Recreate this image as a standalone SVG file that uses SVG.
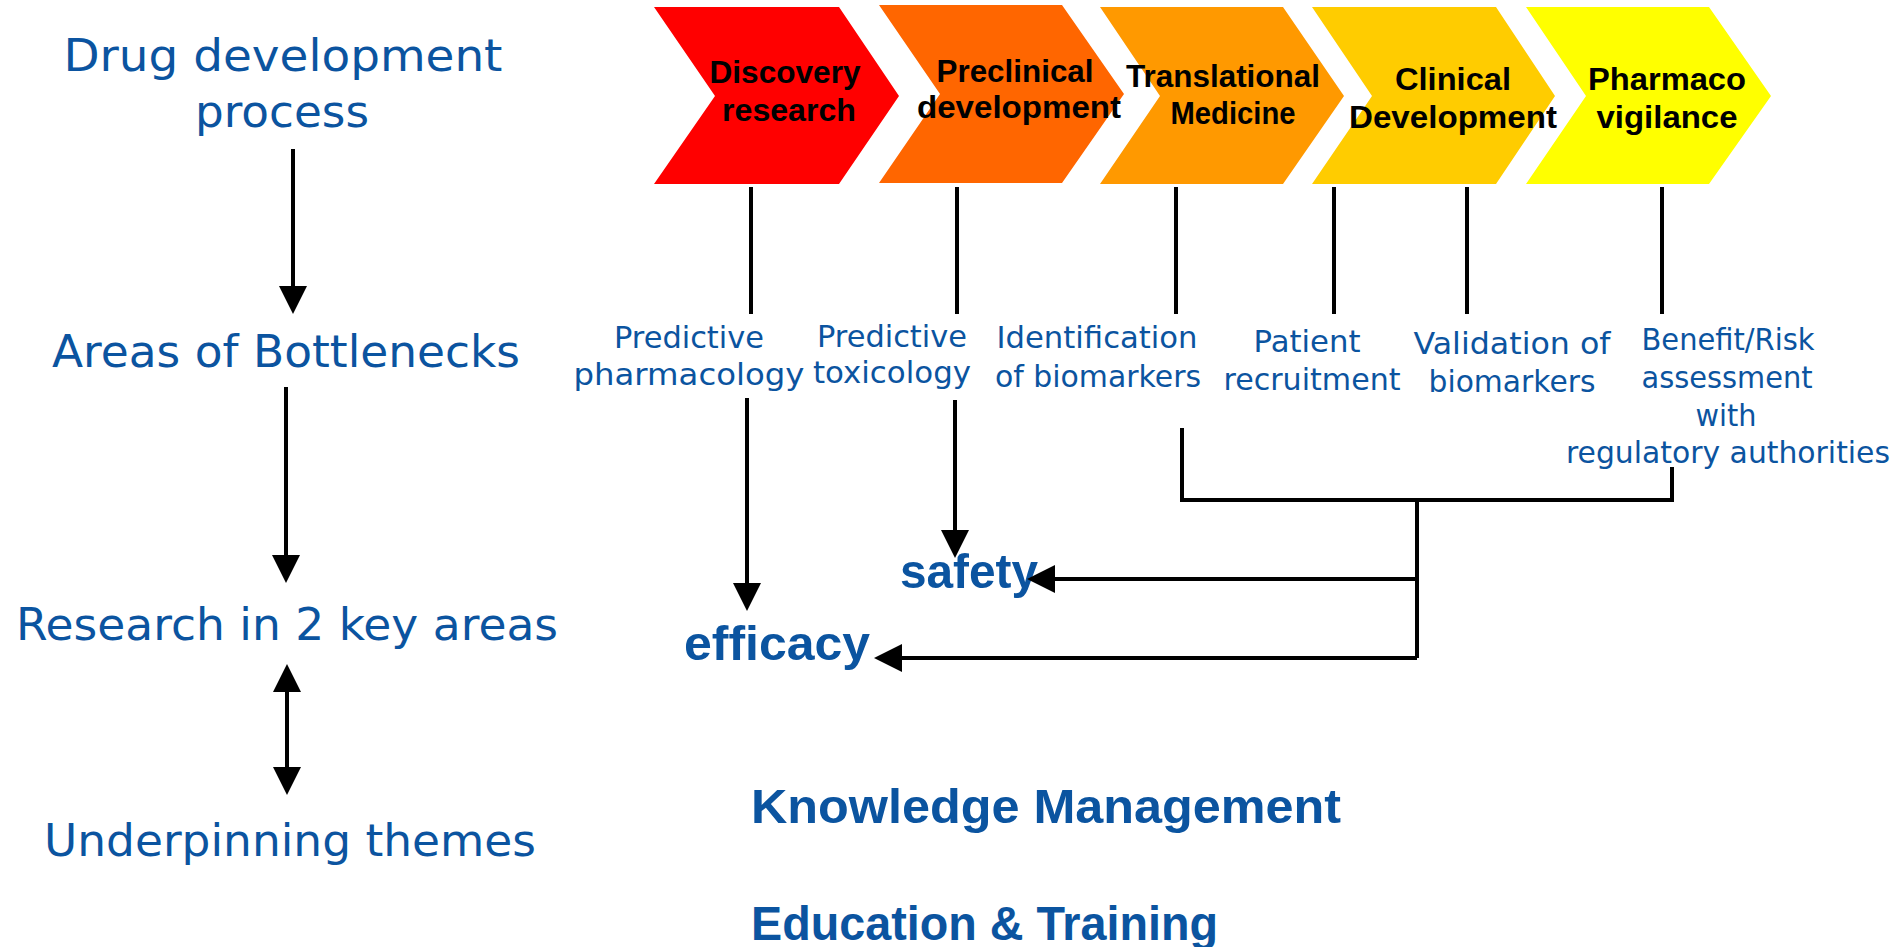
<svg xmlns="http://www.w3.org/2000/svg" width="1899" height="947" viewBox="0 0 1899 947">
<style>
.bg{fill:#ffffff}
text{lengthAdjust:spacingAndGlyphs}
.chev-t{font-family:"Liberation Sans",Arial,sans-serif;font-weight:bold;font-size:32px;fill:#000;text-anchor:middle}
.lbl{font-family:"DejaVu Sans","Liberation Sans",sans-serif;font-weight:normal;font-size:30px;fill:#0B54A0;text-anchor:middle}
.big{font-family:"DejaVu Sans","Liberation Sans",sans-serif;font-weight:normal;font-size:45px;fill:#0B54A0;text-anchor:middle}
.key{font-family:"Liberation Sans",Arial,sans-serif;font-weight:bold;font-size:49px;fill:#0B54A0}
.ln{fill:none;stroke:#000;stroke-width:4}
</style>
<defs>
<marker id="ah" viewBox="0 0 28 28" markerWidth="28" markerHeight="28" refX="0" refY="14" orient="auto-start-reverse" markerUnits="userSpaceOnUse">
<path d="M0,0 L28,14 L0,28 z" fill="#000"/>
</marker>
</defs>
<rect class="bg" x="0" y="0" width="1899" height="947"/>

<g id="chevrons">
<g id="discovery">
<polygon points="654,7 839,7 899,96 839,184 654,184 715,96" fill="#FF0000"/>
<text class="chev-t" x="785" y="83" textLength="151" lengthAdjust="spacingAndGlyphs">Discovery</text>
<text class="chev-t" x="789" y="121" textLength="134" lengthAdjust="spacingAndGlyphs">research</text>
</g>
<g id="preclinical">
<polygon points="879,5 1062,5 1124,94 1062,183 879,183 940,94" fill="#FF6600"/>
<text class="chev-t" x="1015" y="82" textLength="157" lengthAdjust="spacingAndGlyphs">Preclinical</text>
<text class="chev-t" x="1019" y="118" textLength="204" lengthAdjust="spacingAndGlyphs">development</text>
</g>
<g id="translational">
<polygon points="1100,7 1283,7 1344,96 1283,184 1100,184 1160,96" fill="#FF9900"/>
<text class="chev-t" x="1223" y="87" textLength="194" lengthAdjust="spacingAndGlyphs">Translational</text>
<text class="chev-t" x="1233" y="124" textLength="125" lengthAdjust="spacingAndGlyphs">Medicine</text>
</g>
<g id="clinical">
<polygon points="1312,7 1496,7 1555,96 1496,184 1312,184 1372,96" fill="#FFCC00"/>
<text class="chev-t" x="1453" y="90" textLength="116" lengthAdjust="spacingAndGlyphs">Clinical</text>
<text class="chev-t" x="1453" y="128" textLength="208" lengthAdjust="spacingAndGlyphs">Development</text>
</g>
<g id="pharmacovigilance">
<polygon points="1526,7 1709,7 1771,96 1709,184 1526,184 1586,96" fill="#FFFF00"/>
<text class="chev-t" x="1667" y="90" textLength="158" lengthAdjust="spacingAndGlyphs">Pharmaco</text>
<text class="chev-t" x="1667" y="128" textLength="141" lengthAdjust="spacingAndGlyphs">vigilance</text>
</g>
</g>

<g id="left-column">
<g id="drug-dev"><text class="big" x="283" y="71" textLength="439" lengthAdjust="spacingAndGlyphs">Drug development</text><text class="big" x="282" y="127" textLength="174" lengthAdjust="spacingAndGlyphs">process</text></g>
<g id="bottlenecks"><text class="big" x="286" y="367" textLength="468" lengthAdjust="spacingAndGlyphs">Areas of Bottlenecks</text></g>
<g id="research"><text class="big" x="287" y="640" textLength="542" lengthAdjust="spacingAndGlyphs">Research in 2 key areas</text></g>
<g id="underpinning"><text class="big" x="290" y="856" textLength="492" lengthAdjust="spacingAndGlyphs">Underpinning themes</text></g>
</g>

<g id="bottleneck-labels">
<g id="pred-pharm"><text class="lbl" x="689" y="348" textLength="150" lengthAdjust="spacingAndGlyphs">Predictive</text><text class="lbl" x="689" y="385" textLength="231" lengthAdjust="spacingAndGlyphs">pharmacology</text></g>
<g id="pred-tox"><text class="lbl" x="892" y="347" textLength="150" lengthAdjust="spacingAndGlyphs">Predictive</text><text class="lbl" x="892" y="383" textLength="158" lengthAdjust="spacingAndGlyphs">toxicology</text></g>
<g id="biomarker-id"><text class="lbl" x="1097" y="348" textLength="201" lengthAdjust="spacingAndGlyphs">Identification</text><text class="lbl" x="1098" y="387" textLength="206" lengthAdjust="spacingAndGlyphs">of biomarkers</text></g>
<g id="patient"><text class="lbl" x="1307" y="352" textLength="107" lengthAdjust="spacingAndGlyphs">Patient</text><text class="lbl" x="1312" y="390" textLength="177" lengthAdjust="spacingAndGlyphs">recruitment</text></g>
<g id="validation"><text class="lbl" x="1512" y="354" textLength="197" lengthAdjust="spacingAndGlyphs">Validation of</text><text class="lbl" x="1512" y="392" textLength="167" lengthAdjust="spacingAndGlyphs">biomarkers</text></g>
<g id="benefit-risk"><text class="lbl" x="1728" y="350" textLength="173" lengthAdjust="spacingAndGlyphs">Benefit/Risk</text><text class="lbl" x="1727" y="388" textLength="171" lengthAdjust="spacingAndGlyphs">assessment</text><text class="lbl" x="1726" y="426" textLength="61" lengthAdjust="spacingAndGlyphs">with</text><text class="lbl" x="1728" y="463" textLength="324" lengthAdjust="spacingAndGlyphs">regulatory authorities</text></g>
</g>

<g id="outcomes">
<g id="safety"><text class="key" x="900" y="588" textLength="138" lengthAdjust="spacingAndGlyphs">safety</text></g>
<g id="efficacy"><text class="key" x="684" y="660" textLength="186" lengthAdjust="spacingAndGlyphs">efficacy</text></g>
<g id="knowledge"><text class="key" x="751" y="823" textLength="590" lengthAdjust="spacingAndGlyphs">Knowledge Management</text></g>
<g id="education"><text class="key" x="751" y="940" textLength="467" lengthAdjust="spacingAndGlyphs">Education &amp; Training</text></g>
</g>

<g id="connectors">
<path class="ln" d="M293,149 V286" marker-end="url(#ah)"/>
<path class="ln" d="M286,387 V555" marker-end="url(#ah)"/>
<path class="ln" d="M287,692 V767" marker-start="url(#ah)" marker-end="url(#ah)"/>
<path class="ln" d="M751,187 V314"/>
<path class="ln" d="M957,187 V314"/>
<path class="ln" d="M1176,187 V314"/>
<path class="ln" d="M1334,187 V314"/>
<path class="ln" d="M1467,187 V314"/>
<path class="ln" d="M1662,187 V314"/>
<path class="ln" d="M747,398 V583" marker-end="url(#ah)"/>
<path class="ln" d="M955,400 V530" marker-end="url(#ah)"/>
<path class="ln" d="M1182,428 V500 H1672 V467"/>
<path class="ln" d="M1417,500 V658"/>
<path class="ln" d="M1417,579 H1055" marker-end="url(#ah)"/>
<path class="ln" d="M1417,658 H902" marker-end="url(#ah)"/>
</g>
</svg>
